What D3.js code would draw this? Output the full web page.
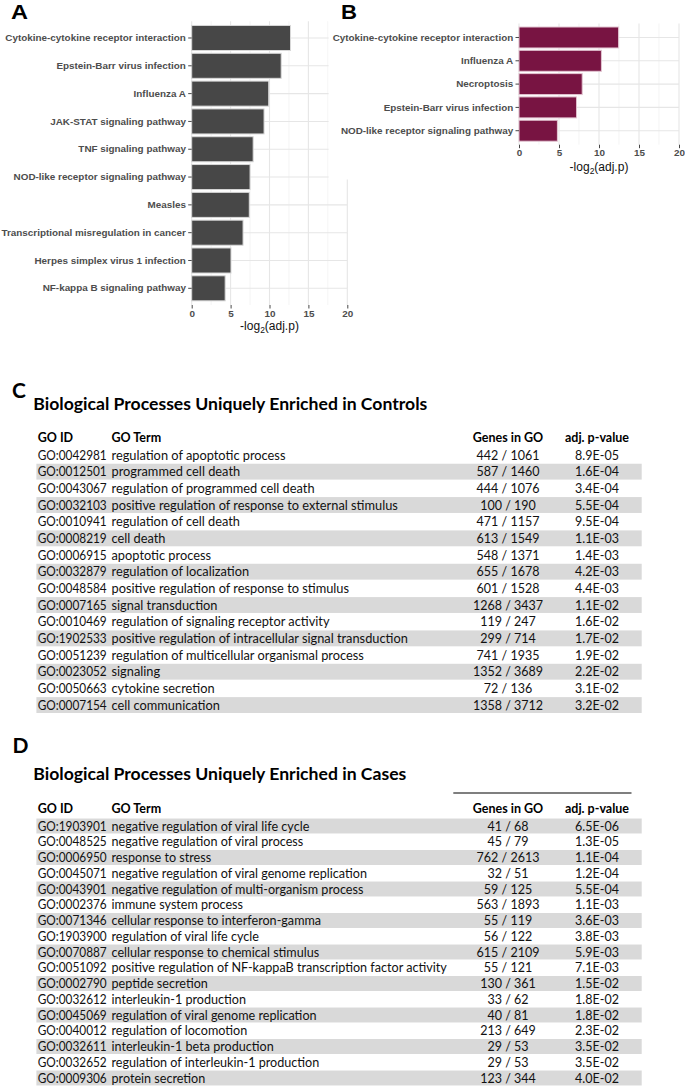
<!DOCTYPE html>
<html><head><meta charset="utf-8">
<script src="https://cdn.jsdelivr.net/npm/d3@7"></script>
<style>html,body{margin:0;padding:0;background:#fff;} svg{display:block;}</style>
</head><body>
<svg id="c" width="685" height="1086"></svg>
<script>
// ---------- DATA ----------
const panelATerms = ["Cytokine-cytokine receptor interaction","Epstein-Barr virus infection","Influenza A","JAK-STAT signaling pathway","TNF signaling pathway","NOD-like receptor signaling pathway","Measles","Transcriptional misregulation in cancer","Herpes simplex virus 1 infection","NF-kappa B signaling pathway"];
const panelAValues = [12.7, 11.5, 9.9, 9.3, 7.9, 7.5, 7.4, 6.6, 5.05, 4.3];
const panelBTerms = ["Cytokine-cytokine receptor interaction","Influenza A","Necroptosis","Epstein-Barr virus infection","NOD-like receptor signaling pathway"];
const panelBValues = [12.45, 10.3, 7.9, 7.2, 4.8];
const xTicks = [0, 5, 10, 15, 20];
const xMinorTicks = [2.5, 7.5, 12.5, 17.5];

const controlsTitle = "Biological Processes Uniquely Enriched in Controls";
const controlsIds = ["GO:0042981","GO:0012501","GO:0043067","GO:0032103","GO:0010941","GO:0008219","GO:0006915","GO:0032879","GO:0048584","GO:0007165","GO:0010469","GO:1902533","GO:0051239","GO:0023052","GO:0050663","GO:0007154"];
const controlsTerms = ["regulation of apoptotic process","programmed cell death","regulation of programmed cell death","positive regulation of response to external stimulus","regulation of cell death","cell death","apoptotic process","regulation of localization","positive regulation of response to stimulus","signal transduction","regulation of signaling receptor activity","positive regulation of intracellular signal transduction","regulation of multicellular organismal process","signaling","cytokine secretion","cell communication"];
const controlsGenes = ["442 / 1061","587 / 1460","444 / 1076","100 / 190","471 / 1157","613 / 1549","548 / 1371","655 / 1678","601 / 1528","1268 / 3437","119 / 247","299 / 714","741 / 1935","1352 / 3689","72 / 136","1358 / 3712"];
const controlsPadj = ["8.9E-05","1.6E-04","3.4E-04","5.5E-04","9.5E-04","1.1E-03","1.4E-03","4.2E-03","4.4E-03","1.1E-02","1.6E-02","1.7E-02","1.9E-02","2.2E-02","3.1E-02","3.2E-02"];

const casesTitle = "Biological Processes Uniquely Enriched in Cases";
const casesIds = ["GO:1903901","GO:0048525","GO:0006950","GO:0045071","GO:0043901","GO:0002376","GO:0071346","GO:1903900","GO:0070887","GO:0051092","GO:0002790","GO:0032612","GO:0045069","GO:0040012","GO:0032611","GO:0032652","GO:0009306"];
const casesTerms = ["negative regulation of viral life cycle","negative regulation of viral process","response to stress","negative regulation of viral genome replication","negative regulation of multi-organism process","immune system process","cellular response to interferon-gamma","regulation of viral life cycle","cellular response to chemical stimulus","positive regulation of NF-kappaB transcription factor activity","peptide secretion","interleukin-1 production","regulation of viral genome replication","regulation of locomotion","interleukin-1 beta production","regulation of interleukin-1 production","protein secretion"];
const casesGenes = ["41 / 68","45 / 79","762 / 2613","32 / 51","59 / 125","563 / 1893","55 / 119","56 / 122","615 / 2109","55 / 121","130 / 361","33 / 62","40 / 81","213 / 649","29 / 53","29 / 53","123 / 344"];
const casesPadj = ["6.5E-06","1.3E-05","1.1E-04","1.2E-04","5.5E-04","1.1E-03","3.6E-03","3.8E-03","5.9E-03","7.1E-03","1.5E-02","1.8E-02","1.8E-02","2.3E-02","3.5E-02","3.5E-02","4.0E-02"];

const tableHeaders = ["GO ID", "GO Term", "Genes in GO", "adj. p-value"];

// ---------- DRAW ----------
const svg = d3.select("#c");
svg.append("rect").attr("width", 685).attr("height", 1086).attr("fill", "#fff");

const AX_FONT = "'Liberation Sans', Arial, sans-serif";
const TB_FONT = "Lato, 'Open Sans', sans-serif";

function barPanel(terms, values, o) {
  const g = svg.append("g");
  const x = d3.scaleLinear().domain([0, 20]).range([o.x0, o.x1]);
  const y = d3.scaleBand().domain(terms).range([o.top, o.bottom]).paddingInner(0.1).paddingOuter(0.15);
  const bw = y.bandwidth();
  g.selectAll("line.mn").data(xMinorTicks).join("line")
    .attr("x1", d => x(d)).attr("x2", d => x(d)).attr("y1", o.top).attr("y2", o.bottom)
    .attr("stroke", "#ececec").attr("stroke-width", 0.6);
  g.selectAll("line.mx").data(xTicks).join("line")
    .attr("x1", d => x(d)).attr("x2", d => x(d)).attr("y1", o.top).attr("y2", o.bottom)
    .attr("stroke", "#e6e6e6").attr("stroke-width", 1.1);
  g.selectAll("line.my").data(terms).join("line")
    .attr("x1", o.x0).attr("x2", o.x1).attr("y1", d => y(d) + bw / 2).attr("y2", d => y(d) + bw / 2)
    .attr("stroke", "#e6e6e6").attr("stroke-width", 1.1);
  g.selectAll("rect.bar").data(terms).join("rect")
    .attr("x", x(0)).attr("y", d => y(d))
    .attr("width", (d, i) => x(values[i]) - x(0)).attr("height", bw)
    .attr("fill", o.fill).attr("stroke", o.stroke).attr("stroke-width", 1);
  const ya = g.append("g").attr("transform", `translate(${o.x0},0)`)
    .call(d3.axisLeft(y).tickSize(3.5).tickPadding(2.3));
  ya.select(".domain").remove();
  ya.selectAll("line").attr("stroke", "#333").attr("stroke-width", 0.9);
  ya.selectAll("text").attr("font-family", AX_FONT).attr("font-weight", "bold")
    .attr("font-size", 9.9).attr("fill", "#4d4d4d");
  const xa = g.append("g").attr("transform", `translate(0,${o.bottom})`)
    .call(d3.axisBottom(x).tickValues(xTicks).tickSize(3.5).tickPadding(o.tpad));
  xa.select(".domain").remove();
  xa.selectAll("line").attr("stroke", "#333").attr("stroke-width", 0.9);
  xa.selectAll("text").attr("font-family", AX_FONT).attr("font-weight", "bold")
    .attr("font-size", 9.9).attr("fill", "#4d4d4d");
  const t = g.append("text").attr("x", (o.x0 + o.x1) / 2).attr("y", o.bottom + o.titleOff)
    .attr("text-anchor", "middle").attr("font-family", AX_FONT).attr("font-size", 12).attr("fill", "#111");
  t.append("tspan").text("-log");
  t.append("tspan").attr("font-size", 8.5).attr("dy", 3).text("2");
  t.append("tspan").attr("dy", -3).text("(adj.p)");
}

// Panel A
barPanel(panelATerms, panelAValues, {x0: 191.7, x1: 347.3, top: 21.3, bottom: 305,
  fill: "#474747", stroke: "#d8d8d8", tpad: 1.6, titleOff: 25});
svg.append("text").attr("x", 11).attr("y", 19).attr("font-family", AX_FONT).attr("font-weight", "bold")
  .attr("font-size", 20).attr("textLength", 17).attr("lengthAdjust", "spacingAndGlyphs").text("A");

// white area where panel B sits over panel A
svg.append("rect").attr("x", 328.6).attr("y", 0).attr("width", 685 - 328.6).attr("height", 179.5).attr("fill", "#fff");

// Panel B
barPanel(panelBTerms, panelBValues, {x0: 519, x1: 679, top: 23.5, bottom: 144.7,
  fill: "#781442", stroke: "#e3c6d2", tpad: 0.3, titleOff: 26});
svg.append("text").attr("x", 341).attr("y", 18.5).attr("font-family", AX_FONT).attr("font-weight", "bold")
  .attr("font-size", 20).attr("textLength", 16).attr("lengthAdjust", "spacingAndGlyphs").text("B");

// Tables
function table(letter, title, ids, terms, genes, padj, o) {
  const g = svg.append("g");
  g.append("text").attr("x", o.letterX).attr("y", o.letterY).attr("font-family", TB_FONT)
    .attr("font-weight", "bold").attr("font-size", 21).attr("fill", "#000").text(letter);
  g.append("text").attr("x", 33.3).attr("y", o.titleY).attr("font-family", TB_FONT)
    .attr("font-weight", "bold").attr("font-size", 17.6).attr("fill", "#000").text(title);
  const n = ids.length;
  const y = d3.scaleLinear().domain([0, n - 1]).range([o.row0, o.row0 + (n - 1) * o.rowH]);
  const rows = d3.range(n);
  g.selectAll("rect.band").data(rows.filter(i => i % 2 === o.grayParity)).join("rect")
    .attr("x", 36.4).attr("width", 641.7 - 36.4)
    .attr("y", i => y(i) - o.rowH / 2 + 0.4).attr("height", o.rowH - 0.8)
    .attr("fill", "#d9d9d9");
  if (o.lineY) {
    g.append("line").attr("x1", 453.3).attr("x2", 631.5).attr("y1", o.lineY).attr("y2", o.lineY)
      .attr("stroke", "#000").attr("stroke-width", 1.2);
  }
  const colX = [37.7, 111.5, 508, 597];
  const anchors = ["start", "start", "middle", "middle"];
  g.selectAll("text.hd").data(tableHeaders).join("text")
    .attr("x", (d, i) => colX[i]).attr("y", o.headerY).attr("dy", "0.36em")
    .attr("text-anchor", (d, i) => anchors[i])
    .attr("font-family", TB_FONT).attr("font-weight", "bold").attr("font-size", 12.5).attr("fill", "#000")
    .text(d => d);
  const cols = [ids, terms, genes, padj];
  cols.forEach((arr, c) => {
    const s = g.selectAll("text.c" + c).data(arr).join("text")
      .attr("x", colX[c]).attr("y", (d, i) => y(i)).attr("dy", "0.36em")
      .attr("text-anchor", anchors[c])
      .attr("font-family", TB_FONT).attr("font-size", c === 1 ? o.termSize : 12.5).attr("fill", "#111")
      .text(d => d);
    if (c === 0) s.attr("textLength", 69).attr("lengthAdjust", "spacingAndGlyphs");
  });
}

table("C", controlsTitle, controlsIds, controlsTerms, controlsGenes, controlsPadj,
  {letterX: 12, letterY: 398, titleY: 410, headerY: 437, row0: 455, rowH: 16.67, grayParity: 1, termSize: 12.8});
table("D", casesTitle, casesIds, casesTerms, casesGenes, casesPadj,
  {letterX: 12.5, letterY: 752.5, titleY: 779.5, headerY: 808, row0: 826, rowH: 15.75, grayParity: 0, lineY: 793, termSize: 12.6});
</script>
</body></html>
